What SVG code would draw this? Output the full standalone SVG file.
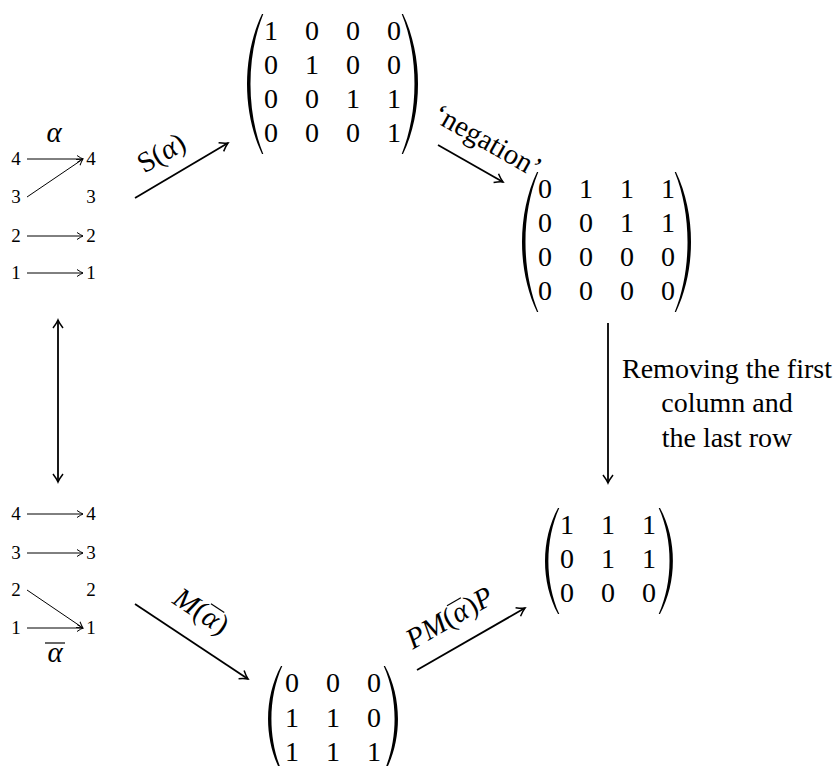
<svg xmlns="http://www.w3.org/2000/svg" width="839" height="766" viewBox="0 0 839 766" font-family="'Liberation Serif', 'Times New Roman', Times, serif">
<style>
text{font-family:'Liberation Serif','Times New Roman',Times,serif;fill:#000}
.m{font-size:28px;text-anchor:middle}
.s{font-size:19px;text-anchor:middle}
.lab{font-size:28px;text-anchor:middle}
.big-l{font-size:29px;text-anchor:middle}
.st{font-size:29px;text-anchor:start}
.it{font-style:italic}
.big{stroke:#000;stroke-width:1.8;fill:none;marker-end:url(#ah)}
.sm{stroke:#000;stroke-width:1;fill:none;marker-end:url(#ahs)}
.bar{stroke:#000;stroke-width:1.2;fill:none}
</style>
<defs>
<marker id="ah" viewBox="-10 -7 12 14" refX="0" refY="0" markerWidth="12" markerHeight="14" orient="auto-start-reverse" markerUnits="userSpaceOnUse">
<path d="M-8,-5 Q-3,-1.2 0,0 Q-3,1.2 -8,5" fill="none" stroke="#000" stroke-width="1.5"/>
</marker>
<marker id="ahs" viewBox="-8 -5 10 10" refX="0" refY="0" markerWidth="10" markerHeight="10" orient="auto" markerUnits="userSpaceOnUse">
<path d="M-6,-3.5 Q-2,-0.8 0,0 Q-2,0.8 -6,3.5" fill="none" stroke="#000" stroke-width="1"/>
</marker>
<path id="lp4" d="M0,0 C-20,42 -20,98 0,140 L1.3,140 C-15.8,98 -15.8,42 1.3,0 Z" fill="#000"/>
<path id="lp3" d="M0,0 C-17.3,32 -17.3,74 0,106 L1.3,106 C-13.2,74 -13.2,32 1.3,0 Z" fill="#000"/>
</defs>

<g id="perm-alpha">
<text class="big-l it" x="54" y="142">α</text>
<text class="s" x="16" y="165">4</text><text class="s" x="91" y="165">4</text>
<text class="s" x="16" y="203">3</text><text class="s" x="91" y="203">3</text>
<text class="s" x="16" y="242">2</text><text class="s" x="91" y="242">2</text>
<text class="s" x="16" y="279">1</text><text class="s" x="91" y="279">1</text>
<line class="sm" x1="27" y1="159" x2="83" y2="159"/>
<line class="sm" x1="27" y1="197" x2="83" y2="159"/>
<line class="sm" x1="27" y1="236" x2="83" y2="236"/>
<line class="sm" x1="27" y1="273" x2="83" y2="273"/>
</g>

<g id="perm-alphabar">
<text class="s" x="16" y="520">4</text><text class="s" x="91" y="520">4</text>
<text class="s" x="16" y="559">3</text><text class="s" x="91" y="559">3</text>
<text class="s" x="16" y="596">2</text><text class="s" x="91" y="596">2</text>
<text class="s" x="16" y="634">1</text><text class="s" x="91" y="634">1</text>
<line class="sm" x1="27" y1="514" x2="83" y2="514"/>
<line class="sm" x1="27" y1="553" x2="83" y2="553"/>
<line class="sm" x1="27" y1="590" x2="83" y2="628"/>
<line class="sm" x1="27" y1="628" x2="83" y2="628"/>
<text class="big-l it" x="55" y="662">α</text>
<line class="bar" x1="45" y1="643" x2="65" y2="643" stroke-width="1.3"/>
</g>

<g id="matrix-S">
<use href="#lp4" transform="translate(262,14)"/>
<use href="#lp4" transform="translate(403,14) scale(-1,1)"/>
<text class="m" x="271" y="40">1</text><text class="m" x="312" y="40">0</text><text class="m" x="353" y="40">0</text><text class="m" x="394" y="40">0</text>
<text class="m" x="271" y="74">0</text><text class="m" x="312" y="74">1</text><text class="m" x="353" y="74">0</text><text class="m" x="394" y="74">0</text>
<text class="m" x="271" y="108">0</text><text class="m" x="312" y="108">0</text><text class="m" x="353" y="108">1</text><text class="m" x="394" y="108">1</text>
<text class="m" x="271" y="142">0</text><text class="m" x="312" y="142">0</text><text class="m" x="353" y="142">0</text><text class="m" x="394" y="142">1</text>
</g>

<g id="matrix-neg">
<use href="#lp4" transform="translate(537,172)"/>
<use href="#lp4" transform="translate(676,172) scale(-1,1)"/>
<text class="m" x="545" y="198">0</text><text class="m" x="586" y="198">1</text><text class="m" x="627" y="198">1</text><text class="m" x="668" y="198">1</text>
<text class="m" x="545" y="232">0</text><text class="m" x="586" y="232">0</text><text class="m" x="627" y="232">1</text><text class="m" x="668" y="232">1</text>
<text class="m" x="545" y="266">0</text><text class="m" x="586" y="266">0</text><text class="m" x="627" y="266">0</text><text class="m" x="668" y="266">0</text>
<text class="m" x="545" y="300">0</text><text class="m" x="586" y="300">0</text><text class="m" x="627" y="300">0</text><text class="m" x="668" y="300">0</text>
</g>

<g id="matrix-PMP">
<use href="#lp3" transform="translate(558,508)"/>
<use href="#lp3" transform="translate(660,508) scale(-1,1)"/>
<text class="m" x="567" y="534">1</text><text class="m" x="608" y="534">1</text><text class="m" x="649" y="534">1</text>
<text class="m" x="567" y="568">0</text><text class="m" x="608" y="568">1</text><text class="m" x="649" y="568">1</text>
<text class="m" x="567" y="602">0</text><text class="m" x="608" y="602">0</text><text class="m" x="649" y="602">0</text>
</g>

<g id="matrix-M">
<use href="#lp3" transform="translate(281,666)"/>
<use href="#lp3" transform="translate(385,666) scale(-1,1)"/>
<text class="m" x="292" y="692">0</text><text class="m" x="333" y="692">0</text><text class="m" x="374" y="692">0</text>
<text class="m" x="292" y="727">1</text><text class="m" x="333" y="727">1</text><text class="m" x="374" y="727">0</text>
<text class="m" x="292" y="761">1</text><text class="m" x="333" y="761">1</text><text class="m" x="374" y="761">1</text>
</g>

<g id="connectors">
<line class="big" x1="135" y1="198" x2="228" y2="143"/>
<line class="big" x1="438" y1="145" x2="503" y2="182"/>
<line class="big" x1="608" y1="323" x2="608" y2="483"/>
<line class="big" x1="58" y1="320" x2="58" y2="482" style="marker-start:url(#ah)"/>
<line class="big" x1="135" y1="604" x2="248" y2="679"/>
<line class="big" x1="417" y1="670" x2="525" y2="608"/>
<text class="big-l" transform="translate(166,161) rotate(-30.5)">S(<tspan class="it">α</tspan>)</text>
<text class="big-l" transform="translate(483,149) rotate(29.4)">‘negation’</text>
<text class="lab" x="727" y="378">Removing the first</text>
<text class="lab" x="727" y="412">column and</text>
<text class="lab" x="727" y="447">the last row</text>
<g transform="translate(196,619) rotate(33.6)">
<text class="st" x="-29.8" y="0"><tspan class="it">M</tspan>(</text>
<text class="big-l it" x="12" y="0">α</text>
<text class="st" x="20.5" y="0">)</text>
<line class="bar" x1="4" y1="-21" x2="20" y2="-21"/>
</g>
<g transform="translate(454,626) rotate(-29.9)">
<text class="st" x="-47.5" y="0"><tspan class="it">PM</tspan>(</text>
<text class="big-l it" x="12" y="0">α</text>
<text class="st" x="20.5" y="0">)<tspan class="it">P</tspan></text>
<line class="bar" x1="4" y1="-21" x2="20" y2="-21"/>
</g>
</g>
</svg>
